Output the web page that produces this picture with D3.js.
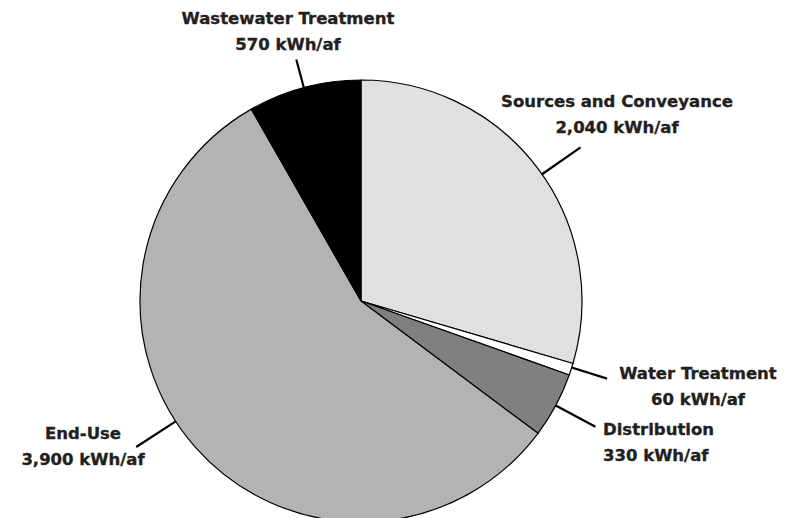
<!DOCTYPE html>
<html>
<head>
<meta charset="utf-8">
<script src="https://cdn.jsdelivr.net/npm/d3@7"></script>
<style>
  body { margin: 0; background: #fff; }
  text { font-family: "DejaVu Sans", sans-serif; font-weight: bold; font-size: 16.5px; fill: #231f20; stroke: #231f20; stroke-width: 0.35px; }
</style>
</head>
<body>
<div id="chart"></div>
<script>
// data
var categories = ["Sources and Conveyance", "Water Treatment", "Distribution", "End-Use", "Wastewater Treatment"];
var values = [2040, 60, 330, 3900, 570];
var valueLabels = ["2,040 kWh/af", "60 kWh/af", "330 kWh/af", "3,900 kWh/af", "570 kWh/af"];

// styles / layout
var fills = ["#e0e0e0", "#ffffff", "#808080", "#b3b3b3", "#000000"];
var width = 785, height = 518;
var cx = 361, cy = 301, radius = 221;

// label layout: leader angle (deg), outer leader radius, text anchor x, baseline y
var labelLayout = [
    { angle: 55, outer: 268, x: 617, y: 107, anchor: "middle" },
    { angle: 107.5, outer: 258, x: 698, y: 379, anchor: "middle" },
    { angle: 118.2, outer: 266, x: 603, y: 435, anchor: "start" },
    { angle: 237, outer: 268, x: 83, y: 439, anchor: "middle" },
    { angle: -15, outer: 250, x: 288, y: 24, anchor: "middle" }
];

var svg = d3.select("#chart")
    .append("svg")
    .attr("width", width)
    .attr("height", height);

var pie = d3.pie().sort(null).value(function (d) { return d; });
var arc = d3.arc().innerRadius(0).outerRadius(radius);

var g = svg.append("g")
    .attr("transform", "translate(" + cx + "," + cy + ")");

g.selectAll("path")
    .data(pie(values))
    .enter()
    .append("path")
    .attr("d", arc)
    .attr("fill", function (d, i) { return fills[i]; })
    .attr("stroke", "#000")
    .attr("stroke-width", 1.2)
    .attr("stroke-linejoin", "round");

// leader lines
function polar(r, deg) {
    var a = deg * Math.PI / 180;
    return [r * Math.sin(a), -r * Math.cos(a)];
}

g.selectAll("line.leader")
    .data(labelLayout)
    .enter()
    .append("line")
    .attr("class", "leader")
    .attr("x1", function (d) { return polar(radius, d.angle)[0]; })
    .attr("y1", function (d) { return polar(radius, d.angle)[1]; })
    .attr("x2", function (d) { return polar(d.outer, d.angle)[0]; })
    .attr("y2", function (d) { return polar(d.outer, d.angle)[1]; })
    .attr("stroke", "#000")
    .attr("stroke-width", 2.2);

// labels
var labels = svg.selectAll("text.label")
    .data(labelLayout)
    .enter()
    .append("text")
    .attr("class", "label")
    .attr("text-anchor", function (d) { return d.anchor; });

labels.append("tspan")
    .attr("x", function (d) { return d.x; })
    .attr("y", function (d) { return d.y; })
    .text(function (d, i) { return categories[i]; });

labels.append("tspan")
    .attr("x", function (d) { return d.x; })
    .attr("y", function (d) { return d.y + 26; })
    .text(function (d, i) { return valueLabels[i]; });
</script>
</body>
</html>
